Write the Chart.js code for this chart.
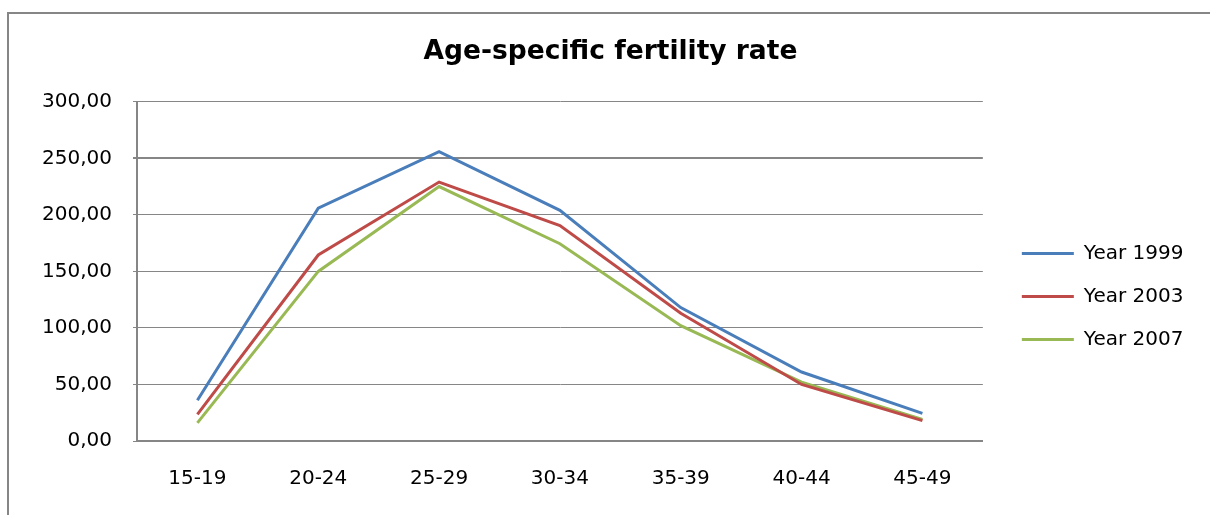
<!DOCTYPE html>
<html>
<head>
<meta charset="utf-8">
<script src="https://cdn.jsdelivr.net/npm/chart.js@4.4.1/dist/chart.umd.min.js"></script>
<style>
  html, body { margin: 0; padding: 0; background: #fff; overflow: hidden; }
  #wrap { position: relative; width: 1210px; height: 515px; }
  #frame { position: absolute; left: 7px; top: 12px; width: 1220px; height: 520px; border: 2px solid #868686; box-sizing: border-box; pointer-events: none; }
  canvas { position: absolute; left: 0; top: 0; }
</style>
</head>
<body>
<div id="wrap">
  <canvas id="c" width="1210" height="515"></canvas>
  <div id="frame"></div>
</div>
<script>
const categories = ["15-19", "20-24", "25-29", "30-34", "35-39", "40-44", "45-49"];
const seriesNames = ["Year 1999", "Year 2003", "Year 2007"];
const year1999 = [36, 206, 256, 204, 118, 61, 24.5];
const year2003 = [23.5, 164.5, 229, 190.5, 113, 50, 18];
const year2007 = [16, 150, 225, 174.5, 102, 52, 19];
const yTicks = [0, 50, 100, 150, 200, 250, 300];
const colors = ["#4A7EBB", "#BE4B48", "#98B954"];

const FONT = "'DejaVu Sans', sans-serif";

new Chart(document.getElementById('c'), {
  type: 'line',
  data: {
    labels: categories,
    datasets: [year1999, year2003, year2007].map((d, i) => ({
      label: seriesNames[i],
      data: d,
      borderColor: colors[i],
      backgroundColor: colors[i],
      borderWidth: 3,
      pointRadius: 0,
      tension: 0,
      fill: false
    }))
  },
  options: {
    responsive: false,
    animation: false,
    devicePixelRatio: 1,
    layout: { padding: { left: 28, right: 17, top: 0, bottom: -2 } },
    plugins: {
      title: {
        display: true,
        text: 'Age-specific fertility rate',
        color: '#000',
        font: { family: FONT, size: 26.5, weight: 'bold', lineHeight: 1.2 },
        padding: { top: 36, bottom: 34 }
      },
      legend: {
        position: 'right',
        align: 'center',
        fullSize: false,
        title: { display: true, text: '', font: { family: FONT, size: 20, lineHeight: 1.2 }, padding: { top: 13, bottom: 13 } },
        labels: {
          usePointStyle: true,
          pointStyle: 'line',
          pointStyleWidth: 52,
          padding: 23,
          color: '#000',
          font: { family: FONT, size: 20 }
        }
      },
      tooltip: { enabled: false }
    },
    scales: {
      x: {
        type: 'category',
        offset: true,
        grid: { display: false, drawTicks: false, tickLength: 0 },
        border: { display: true, color: '#868686', width: 2 },
        ticks: { color: '#000', padding: 26, font: { family: FONT, size: 20 }, maxRotation: 0, autoSkip: false }
      },
      y: {
        min: 0,
        max: 300,
        afterBuildTicks: s => { s.ticks = yTicks.map(v => ({ value: v })); },
        afterFit: s => { s.width = 109; },
        grid: {
          color: '#868686',
          lineWidth: ctx => (ctx.tick && ctx.tick.value === 250 ? 2 : 1),
          drawTicks: true,
          tickLength: 4
        },
        border: { display: true, color: '#868686', width: 2 },
        ticks: {
          color: '#000',
          padding: 21,
          font: { family: FONT, size: 20 },
          callback: v => Number(v).toFixed(2).replace('.', ',')
        }
      },
      yR: {
        position: 'right',
        display: true,
        grid: { display: false, drawTicks: false },
        border: { display: false },
        ticks: { display: false },
        afterFit: s => { s.width = 16; }
      }
    }
  }
});
</script>
</body>
</html>
